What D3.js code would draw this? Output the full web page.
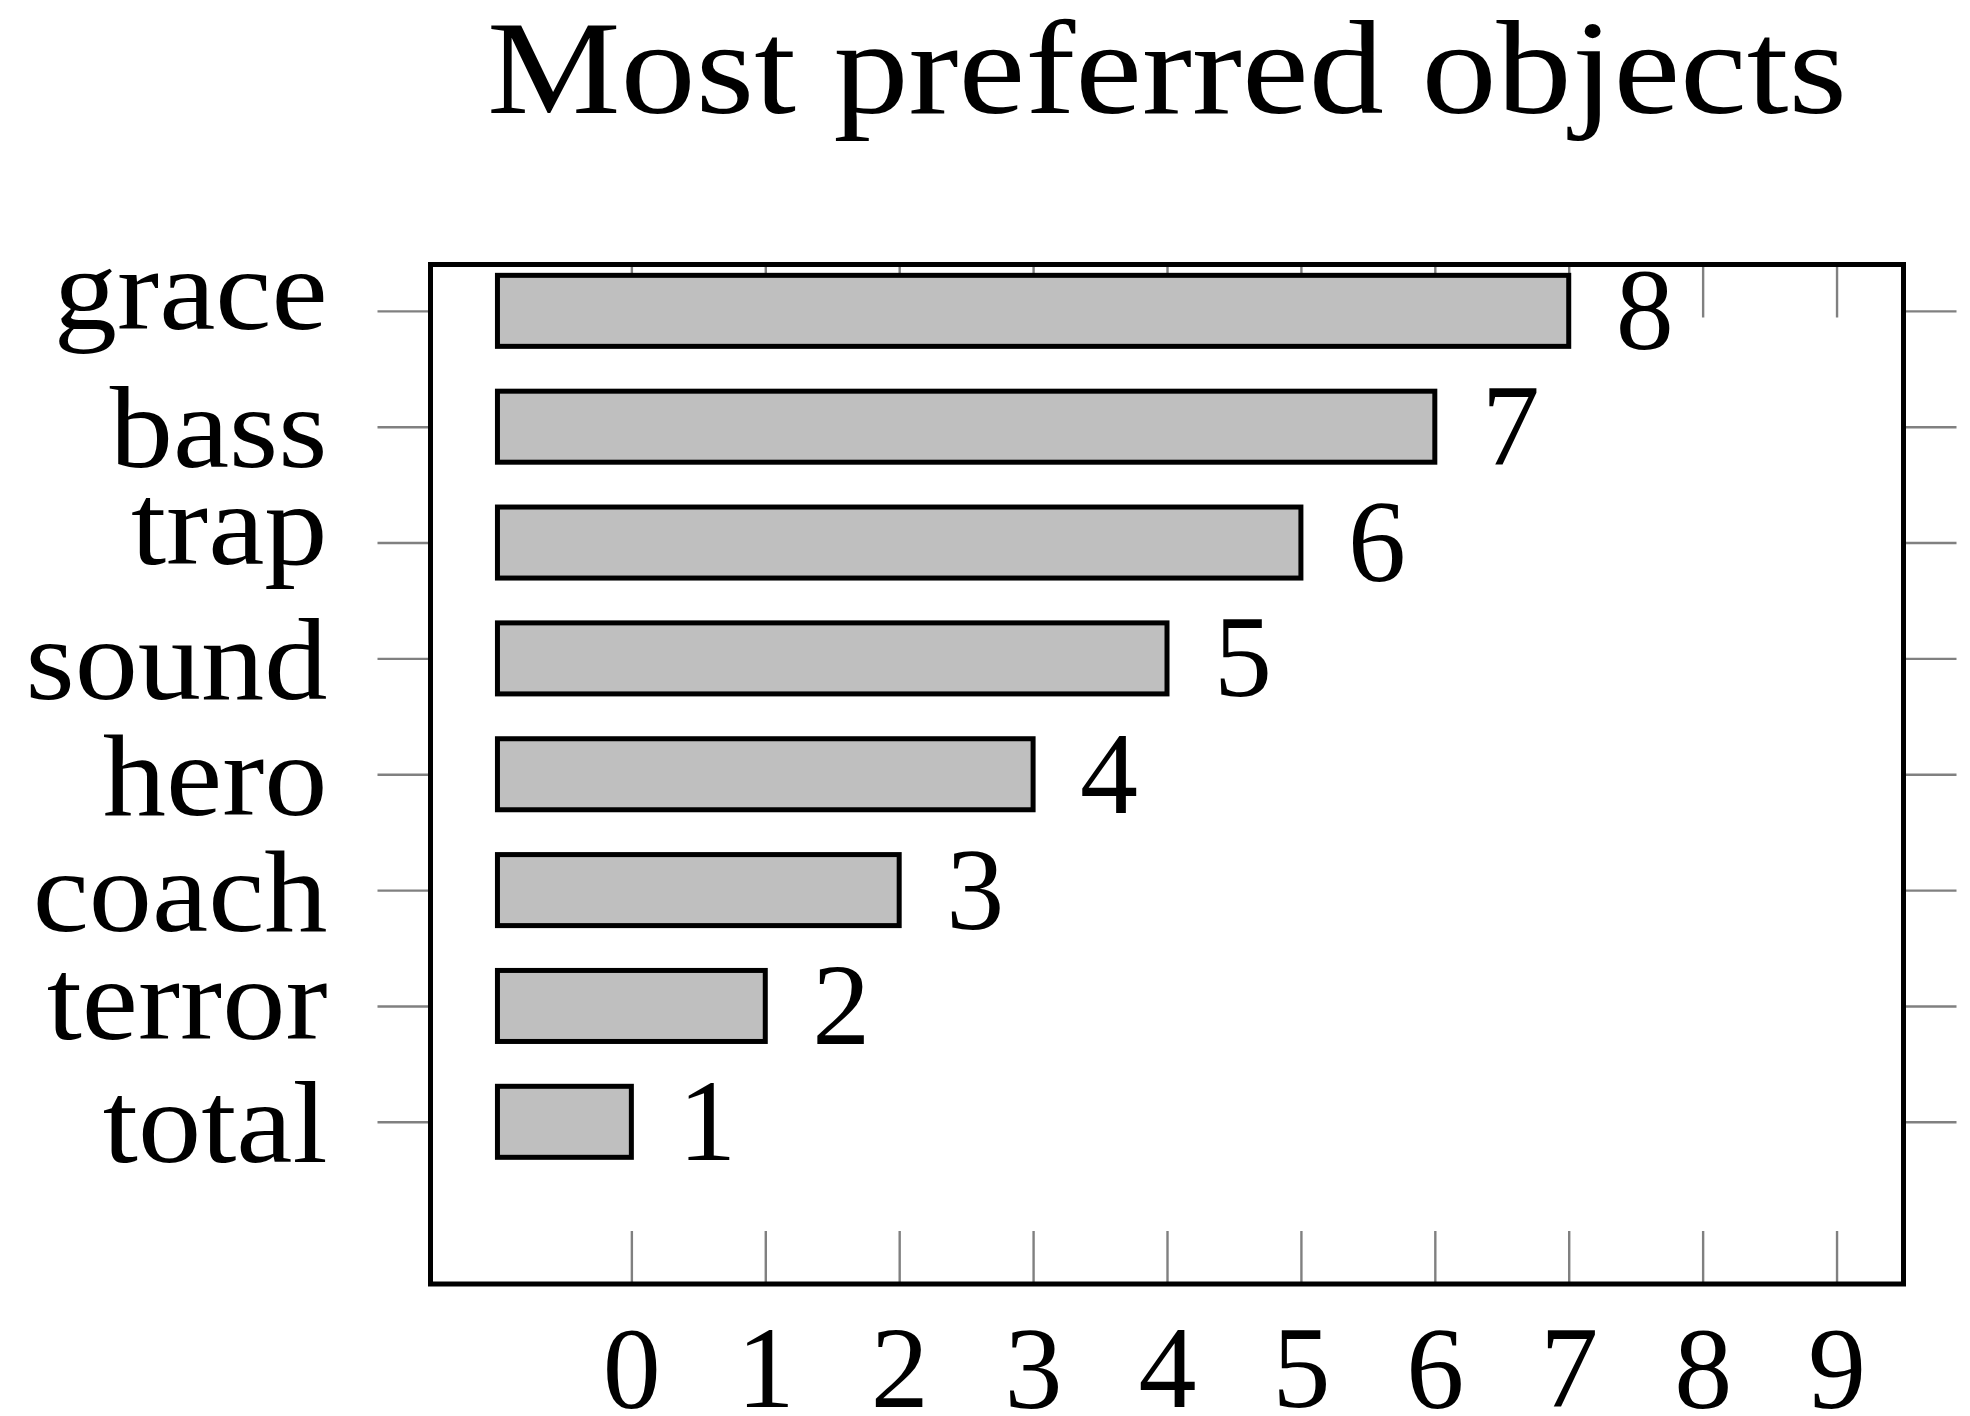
<!DOCTYPE html>
<html>
<head>
<meta charset="utf-8">
<script src="https://cdn.jsdelivr.net/npm/d3@7/dist/d3.min.js"></script>
<style>
  html, body { margin: 0; padding: 0; background: #fff; }
  svg { display: block; }
  text { font-family: 'Liberation Serif', 'Times New Roman', serif; fill: #000; }
</style>
</head>
<body>
<svg id="chart" width="1970" height="1416"></svg>
<script>
const title = "Most preferred objects";
const categories = ["grace", "bass", "trap", "sound", "hero", "coach", "terror", "total"];
const values = [8, 7, 6, 5, 4, 3, 2, 1];
const xTicks = [0, 1, 2, 3, 4, 5, 6, 7, 8, 9];

const FONT = "'Liberation Serif'";
const fs = 116;
const stretch = 1.09;
const plot = { left: 430.5, right: 1903.5, top: 264.5, bottom: 1284 };

const svg = d3.select("#chart");
const x = d3.scaleLinear().domain([-1.5, 9.5]).range([plot.left, plot.right]);
const y = d3.scaleLinear().domain([-0.4, categories.length + 0.4]).range([plot.top, plot.bottom]);
const barH = 0.613 * (y(1) - y(0));

const ctx = document.createElement("canvas").getContext("2d");
function ink(str, size) {
  ctx.font = size + "px " + FONT;
  const m = ctx.measureText(str);
  return { asc: m.actualBoundingBoxAscent, desc: m.actualBoundingBoxDescent, w: m.width };
}

// Title, centred over the plot
svg.append("text")
  .attr("x", (plot.left + plot.right) / 2).attr("y", 113)
  .attr("text-anchor", "middle")
  .attr("font-size", 134)
  .attr("textLength", 1360).attr("lengthAdjust", "spacingAndGlyphs")
  .text(title);

const tickColor = "#808080", tickW = 2.4, tickLen = 53;

// Bottom axis (inside ticks) with labels
const gB = svg.append("g").attr("transform", `translate(0,${plot.bottom})`)
  .call(d3.axisBottom(x).tickValues(xTicks).tickSizeInner(-tickLen).tickSizeOuter(0).tickFormat(d3.format("d")));
gB.select(".domain").remove();
gB.selectAll(".tick line").attr("stroke", tickColor).attr("stroke-width", tickW);
gB.selectAll(".tick text")
  .attr("font-size", fs).attr("font-family", FONT).attr("fill", "#000")
  .attr("dy", null)
  .attr("y", d => (1330 - plot.bottom) + ink(String(d), fs).asc);

// Top axis (inside ticks, no labels)
const gT = svg.append("g").attr("transform", `translate(0,${plot.top})`)
  .call(d3.axisTop(x).tickValues(xTicks).tickSizeInner(-tickLen).tickSizeOuter(0).tickFormat(""));
gT.select(".domain").remove();
gT.selectAll(".tick line").attr("stroke", tickColor).attr("stroke-width", tickW);

// Left axis (outside ticks) with category labels
const idx = d3.range(categories.length);
const pad = 50;
const gL = svg.append("g").attr("transform", `translate(${plot.left},0)`)
  .call(d3.axisLeft(y).tickValues(idx).tickSizeInner(tickLen).tickSizeOuter(0).tickPadding(pad).tickFormat(i => categories[i]));
gL.select(".domain").remove();
gL.selectAll(".tick line").attr("stroke", tickColor).attr("stroke-width", tickW);
gL.selectAll(".tick text")
  .attr("font-size", fs).attr("font-family", FONT).attr("fill", "#000")
  .attr("dy", null)
  .attr("text-anchor", "start")
  .each(function(i) {
    const m = ink(categories[i], fs);
    const len = m.w * stretch;
    d3.select(this)
      .attr("x", -(tickLen + pad) - len)
      .attr("y", (m.asc - m.desc) / 2)
      .attr("textLength", len)
      .attr("lengthAdjust", "spacingAndGlyphs");
  });

// Right axis (outside ticks, no labels)
const gR = svg.append("g").attr("transform", `translate(${plot.right},0)`)
  .call(d3.axisRight(y).tickValues(idx).tickSizeInner(tickLen).tickSizeOuter(0).tickFormat(""));
gR.select(".domain").remove();
gR.selectAll(".tick line").attr("stroke", tickColor).attr("stroke-width", tickW);

// Bars (drawn from x=-1 to value-1 as in the reference)
svg.append("g").selectAll("rect")
  .data(values)
  .join("rect")
  .attr("x", x(-1))
  .attr("y", (d, i) => y(i) - barH / 2)
  .attr("width", d => x(d - 1) - x(-1))
  .attr("height", barH)
  .attr("fill", "#bfbfbf")
  .attr("stroke", "#000")
  .attr("stroke-width", 5);

// Value labels
svg.append("g").selectAll("text")
  .data(values)
  .join("text")
  .attr("x", d => x(d - 1) + 47)
  .attr("y", (d, i) => { const m = ink(String(d), fs); return y(i) + (m.asc - m.desc) / 2; })
  .attr("font-size", fs)
  .text(d => d);

// Frame
svg.append("rect")
  .attr("x", plot.left).attr("y", plot.top)
  .attr("width", plot.right - plot.left).attr("height", plot.bottom - plot.top)
  .attr("fill", "none").attr("stroke", "#000").attr("stroke-width", 5);
</script>
</body>
</html>
